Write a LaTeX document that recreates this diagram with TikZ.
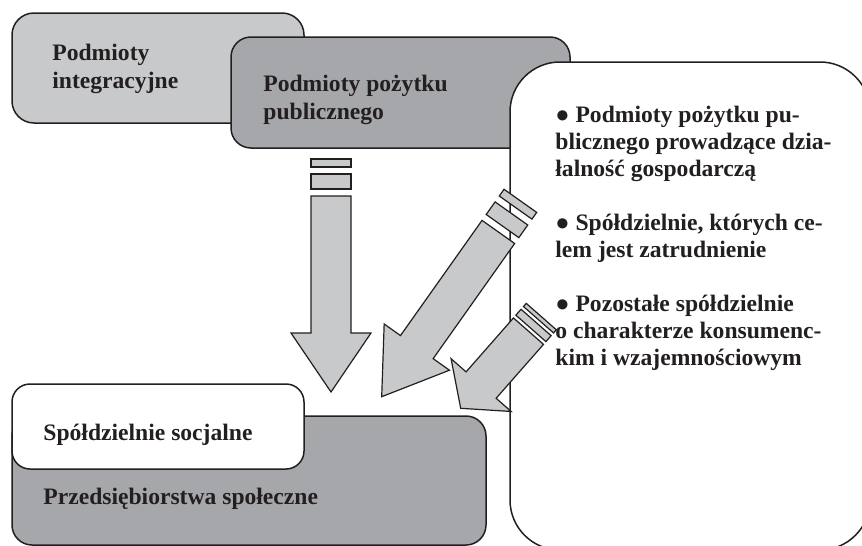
\documentclass[tikz,border=0pt]{standalone}
\usepackage{fontspec}
\setmainfont{Liberation Serif}
\definecolor{LightGray}{RGB}{200,201,203}
\definecolor{MidGray}{RGB}{166,167,170}
\definecolor{Ink}{RGB}{35,31,32}

\begin{document}
\begin{tikzpicture}[x=0.5pt, y=-0.5pt,
    box/.style={draw=Ink, line width=0.75pt},
    arrowpart/.style={draw=Ink, fill=LightGray, line width=0.6pt},
    boxtext/.style={anchor=base west, inner sep=0pt, text=Ink, align=left,
      font=\fontsize{11.8}{13.5}\selectfont\bfseries}]
      \useasboundingbox (0,0) rectangle (862,546);
      \clip (0,0) rectangle (862,546);

      % upper boxes
      \draw[box, fill=LightGray, rounded corners=11pt] (12,13) rectangle (304,123);
      \draw[box, fill=MidGray, rounded corners=10pt] (231,37) rectangle (570,148);
      \draw[box, fill=white, rounded corners=25pt] (510,62) rectangle (870,550);

      % lower boxes
      \draw[box, fill=MidGray, rounded corners=10pt] (12,416) rectangle (486,545);
      \draw[box, fill=white, rounded corners=9pt] (12,384) rectangle (304,469);

      % text nodes sit on the baseline of their last line
      \node[boxtext] (integr) at (52,88) {Podmioty\\integracyjne};
      \node[boxtext] (pozytek) at (263,119) {Podmioty pożytku\\publicznego};
      \node[boxtext] (inne) at (555,365) {● Podmioty pożytku pu-\\blicznego prowadzące dzia-\\łalność gospodarczą\\[13.5pt]● Spółdzielnie, których ce-\\lem jest zatrudnienie\\[13.5pt]● Pozostałe spółdzielnie\\o charakterze konsumenc-\\kim i wzajemnościowym};
      \node[boxtext] (socjalne) at (43,440) {Spółdzielnie socjalne};
      \node[boxtext] (przeds) at (43,504) {Przedsiębiorstwa społeczne};

      % arrows: tip x/y, angle, length factor
      \foreach \tx/\ty/\ang/\len in {331/392/0/1, 381.7/396.7/-35.3/1.03, 460.7/408.3/-41.3/0.524} {
        \begin{scope}[shift={(\tx,\ty)}, rotate=\ang, yscale=\len]
          \draw[arrowpart] (-20,-233) rectangle (20,-225);
          \draw[arrowpart] (-20,-218) rectangle (20,-203);
          \draw[arrowpart] (-20,-196) -- (20,-196) -- (20,-59) -- (40,-59)
            -- (0,0) -- (-40,-59) -- (-20,-59) -- cycle;
        \end{scope}
      }
\end{tikzpicture}
\end{document}
